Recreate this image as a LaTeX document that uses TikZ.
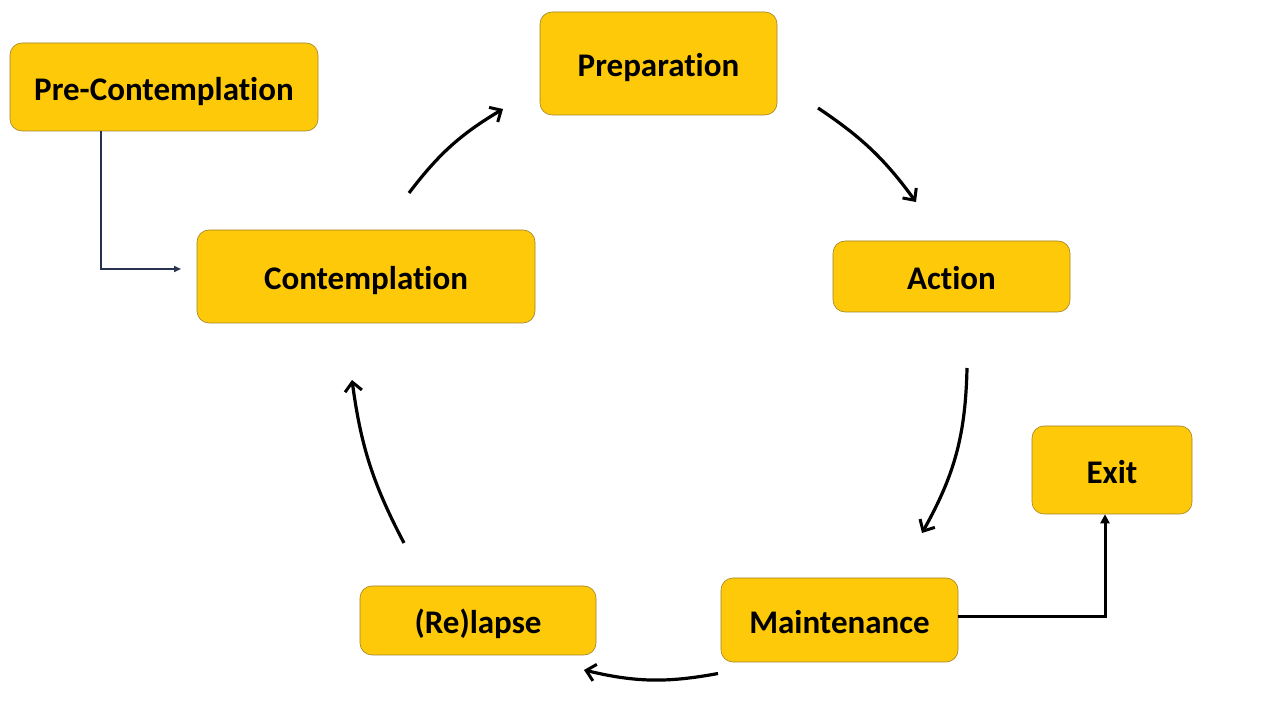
\documentclass[tikz,border=0pt]{standalone}
\usepackage{fontspec}
\setmainfont{Carlito}[Ligatures=NoCommon]
\usetikzlibrary{arrows.meta}
\definecolor{gold}{RGB}{254,201,9}
\definecolor{goldedge}{RGB}{160,130,40}
\definecolor{navy}{RGB}{40,50,80}
\definecolor{arrowblue}{RGB}{60,100,170}
\tikzset{
  stage/.style={draw=goldedge, line width=0.6pt, fill=gold, rounded corners=12pt, inner sep=0pt,
    font=\fontsize{33}{40}\selectfont\bfseries, text=black, text height=27pt, text depth=0pt},
  cyc/.style={line width=3.2pt, black, -{Straight Barb[length=9pt,width=17pt,line width=3pt]}},
  elbow/.style={line width=3pt, black, -{Triangle[length=9pt,width=9pt]}},
  entry/.style={line width=1.6pt, navy, -{Triangle[length=7pt,width=6pt,fill=arrowblue]}}
}
\begin{document}
\begin{tikzpicture}[x=1pt,y=1pt]
\useasboundingbox (0,0) rectangle (1280,720);
% nodes (y = 720 - screen y)
\node[stage, minimum width=308pt, minimum height=88pt] (pre) at (164,633) {Pre-Contemplation};
\node[stage, minimum width=237pt, minimum height=103pt] (prep) at (658.5,656.5) {Preparation};
\node[stage, minimum width=338pt, minimum height=93pt] (cont) at (366,443.5) {Contemplation};
\node[stage, minimum width=237pt, minimum height=71pt] (act) at (951.5,443.5) {Action};
\node[stage, minimum width=160pt, minimum height=88pt] (exit) at (1112,250) {Exit};
\node[stage, minimum width=237pt, minimum height=84pt] (main) at (839.5,100) {Maintenance};
\node[stage, minimum width=236pt, minimum height=69pt] (rel) at (478,99.5) {(Re)lapse};
% free ends of the cycle arrows
\coordinate (c1s) at (409,527);
\coordinate (c1e) at (503,611);
\coordinate (c2s) at (818,612);
\coordinate (c2e) at (916,518);
\coordinate (c3s) at (967,352);
\coordinate (c3e) at (922,187);
\coordinate (c4s) at (718,46.5);
\coordinate (c4e) at (584,50);
\coordinate (c5s) at (404,177);
\coordinate (c5e) at (352,340);
\draw[cyc] (c1s) to[bend left=11] (c1e);
\draw[cyc] (c2s) to[bend left=10] (c2e);
\draw[cyc] (c3s) to[bend left=14] (c3e);
\draw[cyc] (c4s) to[bend left=12] (c4e);
\draw[cyc] (c5s) to[bend left=10] (c5e);
% elbow connectors
\coordinate (preEnd) at (181,451);
\draw[entry] (pre.south -| 101,0) |- (preEnd);
\draw[elbow] (main.east |- 0,103) -| (exit.south -| 1105,0);
\end{tikzpicture}
\end{document}
